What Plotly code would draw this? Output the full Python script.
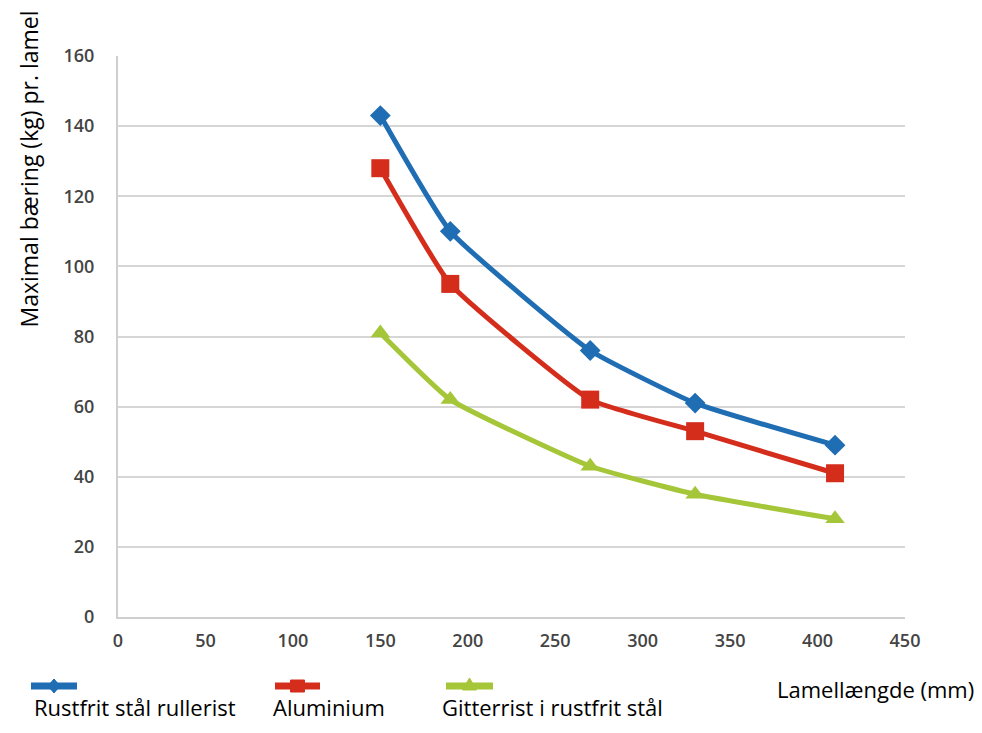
import plotly.graph_objects as go

# ---- data ----
lengths = [150, 190, 270, 330, 410]
rustfrit_rullerist = [143, 110, 76, 61, 49]
aluminium = [128, 95, 62, 53, 41]
gitterrist = [81, 62, 43, 35, 28]

series_names = ["Rustfrit stål rullerist", "Aluminium", "Gitterrist i rustfrit stål"]
series_values = [rustfrit_rullerist, aluminium, gitterrist]
series_colors = ["#1f6db3", "#d42d1c", "#a5c638"]
series_symbols = ["diamond", "square", "triangle-up"]
series_sizes = [16, 18, 17]

x_title = "Lamellængde (mm)"
y_title = "Maximal bæring (kg) pr. lamel"

# page body has an 8px margin; figure sized to fit the 982x733 window
OFF = 8
W, H = 982 - 2 * OFF, 733 - 2 * OFF
# plot area in screen pixels
L, R, T, B = 118, 905, 56, 617


def px(xp):
    return (xp - L) / (R - L)


def py(yp):
    return (B - yp) / (B - T)


fig = go.Figure()
for name, vals, col, sym, sz in zip(series_names, series_values, series_colors, series_symbols, series_sizes):
    fig.add_trace(go.Scatter(
        x=lengths, y=vals, name=name, mode="lines+markers",
        line=dict(color=col, width=5, shape="spline", smoothing=0.4),
        marker=dict(symbol=sym, size=sz, color=col),
        showlegend=False,
    ))

tickfont = dict(family="Open Sans", size=18, color="#444444", weight=600)

fig.update_layout(
    width=W, height=H,
    margin=dict(l=L - OFF, r=W - (R - OFF), t=T - OFF, b=H - (B - OFF), autoexpand=False),
    paper_bgcolor="white", plot_bgcolor="white",
    font=dict(family="Open Sans", color="#000000"),
    xaxis=dict(range=[0, 450], dtick=50, tick0=0, showgrid=False, zeroline=False,
               showline=True, linecolor="#cfcfcf", linewidth=2,
               ticks="", tickfont=tickfont, ticklabelstandoff=6, automargin=False),
    yaxis=dict(range=[0, 160], dtick=20, tick0=0, showgrid=True, gridcolor="#d6d6d6", gridwidth=2,
               zeroline=False, showline=True, linecolor="#cfcfcf", linewidth=2,
               ticks="", tickfont=tickfont, ticklabelstandoff=18, automargin=False),
)

annotations = [
    dict(text=y_title, textangle=-90, xref="paper", yref="paper",
         x=px(28), y=py(9), xanchor="center", yanchor="top", showarrow=False,
         font=dict(family="Open Sans", size=23, color="#000")),
    dict(text=x_title, xref="paper", yref="paper", x=px(976), y=py(689),
         xanchor="right", yanchor="middle", showarrow=False,
         font=dict(family="Open Sans", size=22, color="#000")),
]

legend_text_x = [32, 271, 440]
legend_key_x = [(28, 80), (272, 323), (443, 496)]
shapes = []
key_y = 686
for name, col, sym, tx, (k0, k1) in zip(series_names, series_colors, series_symbols, legend_text_x, legend_key_x):
    annotations.append(dict(text=name, xref="paper", yref="paper", x=px(tx), y=py(724),
                            xanchor="left", yanchor="bottom", showarrow=False,
                            font=dict(family="Open Sans", size=22, color="#000")))
    shapes.append(dict(type="line", xref="paper", yref="paper",
                       x0=px(k0 + 3), x1=px(k1 - 3), y0=py(key_y), y1=py(key_y),
                       line=dict(color=col, width=7)))
    cx = (k0 + k1) / 2
    if sym == "diamond":
        pts = [(cx, key_y - 7), (cx + 6, key_y), (cx, key_y + 7), (cx - 6, key_y)]
    elif sym == "square":
        pts = [(cx - 7, key_y - 6), (cx + 7, key_y - 6), (cx + 7, key_y + 6), (cx - 7, key_y + 6)]
    else:
        pts = [(cx, key_y - 8), (cx + 7, key_y + 4), (cx - 7, key_y + 4)]
    path = "M " + " L ".join(f"{px(a):.5f},{py(b):.5f}" for a, b in pts) + " Z"
    shapes.append(dict(type="path", xref="paper", yref="paper", path=path,
                       fillcolor=col, line=dict(color=col, width=1)))

fig.update_layout(annotations=annotations, shapes=shapes)

fig.write_html("out.html")
